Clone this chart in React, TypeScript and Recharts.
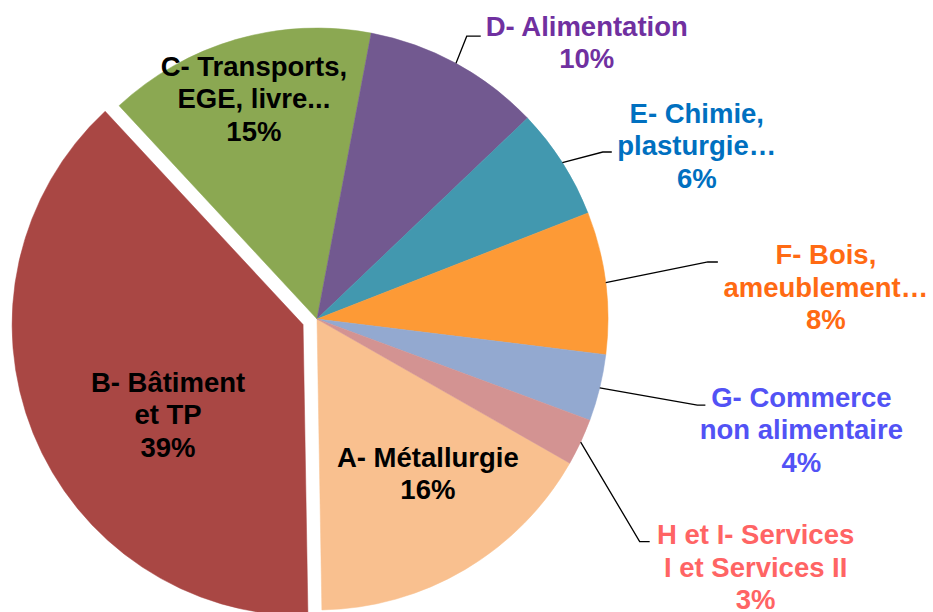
import { PieChart, Pie, Cell } from "recharts";

// secteurs, dans l'ordre du tracé (sens horaire)
const categories = ["A", "B", "C", "D", "E", "F", "G", "H"];
const shares = [16.5, 38.4, 14.9, 9.9, 6.2, 7.9, 3.7, 2.6];
const nameLines = [
  ["A- Métallurgie"],
  ["B- Bâtiment", "et TP"],
  ["C- Transports,", "EGE, livre..."],
  ["D- Alimentation"],
  ["E- Chimie,", "plasturgie…"],
  ["F- Bois,", "ameublement…"],
  ["G- Commerce", "non alimentaire"],
  ["H et I- Services", "I et Services II"],
];
const percentLabels = ["16%", "39%", "15%", "10%", "6%", "8%", "4%", "3%"];

const fills = ["#F9C08F", "#A94744", "#8BA852", "#725990", "#4298AF", "#FD9A36", "#93A9D0", "#D39392"];
const textColors = ["#000", "#000", "#000", "#7030A0", "#0070C0", "#FF6A13", "#5252F5", "#FF6464"];

// placement des étiquettes (angle horaire depuis midi, rayon)
type Layout =
  | { kind: "in"; deg: number; r: number }
  | { kind: "out"; deg: number; r: number; stub: number; dx: number; dy: number };
const layout: Layout[] = [
  { kind: "in", deg: 144.3, r: 190 },
  { kind: "in", deg: 236.2, r: 162.5 },
  { kind: "in", deg: 344, r: 229 },
  { kind: "out", deg: 27.9, r: 320, stub: 14, dx: 120, dy: -10 },
  { kind: "out", deg: 59.7, r: 331, stub: 9, dx: 94, dy: -39 },
  { kind: "out", deg: 81.7, r: 395, stub: 10, dx: 118, dy: -7 },
  { kind: "out", deg: 102.75, r: 390, stub: 8, dx: 104, dy: -8 },
  { kind: "out", deg: 124.6, r: 392, stub: 10, dx: 116, dy: -7 },
];

const EXPLODED = 1;
const CX = 317;
const CY = 319;
const R = 291;
const START = 119.7; // degrés, sens horaire depuis midi
const EXPLODE = 15;
const LH = 32.5;
const FONT = "'Liberation Sans', Arial, sans-serif";

const data = categories.map((c, i) => ({ name: c, value: shares[i] }));

const total = shares.reduce((a, b) => a + b, 0);
const before = shares.slice(0, EXPLODED).reduce((a, b) => a + b, 0);
const midB = ((START + (360 * (before + shares[EXPLODED] / 2)) / total) * Math.PI) / 180;
const offX = EXPLODE * Math.sin(midB);
const offY = -EXPLODE * Math.cos(midB);

const polar = (cx: number, cy: number, r: number, deg: number) => ({
  x: cx + r * Math.sin((deg * Math.PI) / 180),
  y: cy - r * Math.cos((deg * Math.PI) / 180),
});

function renderLabel(props: any, onlyIndex: number | null) {
  const { cx, cy, midAngle, outerRadius, index } = props;
  if (onlyIndex === null ? index === EXPLODED : index !== onlyIndex) return null;
  const lay = layout[index];
  const lines = [...nameLines[index], percentLabels[index]];
  const common = {
    fill: textColors[index],
    fontFamily: FONT,
    fontWeight: 700,
    fontSize: 27.5,
    textAnchor: "middle" as const,
    dominantBaseline: "central" as const,
  };
  if (lay.kind === "in") {
    const p = polar(cx, cy, lay.r, lay.deg);
    const y0 = p.y - ((lines.length - 1) / 2) * LH;
    return (
      <g key={`lbl-${index}`}>
        {lines.map((t, i) => (
          <text key={i} x={p.x} y={y0 + i * LH} {...common}>
            {t}
          </text>
        ))}
      </g>
    );
  }
  const rad = (-midAngle * Math.PI) / 180;
  const sx = cx + outerRadius * Math.cos(rad);
  const sy = cy + outerRadius * Math.sin(rad);
  const e = polar(cx, cy, lay.r, lay.deg);
  return (
    <g key={`lbl-${index}`}>
      <polyline
        points={`${sx},${sy} ${e.x},${e.y} ${e.x + lay.stub},${e.y}`}
        fill="none"
        stroke="#000"
        strokeWidth={1.3}
      />
      {lines.map((t, i) => (
        <text key={i} x={e.x + lay.dx} y={e.y + lay.dy + i * LH} {...common}>
          {t}
        </text>
      ))}
    </g>
  );
}

export default function App() {
  return (
    <div style={{ position: "absolute", left: 0, top: 0, width: 933, height: 612, background: "#fff" }}>
      <PieChart width={933} height={612} margin={{ top: 0, right: 0, bottom: 0, left: 0 }}>
        <Pie
          data={data}
          dataKey="value"
          cx={CX}
          cy={CY}
          outerRadius={R}
          startAngle={90 - START}
          endAngle={90 - START - 360}
          isAnimationActive={false}
          labelLine={false}
          label={(p: any) => renderLabel(p, null)}
        >
          {data.map((d, i) => (
            <Cell
              key={d.name}
              fill={i === EXPLODED ? "none" : fills[i]}
              stroke={i === EXPLODED ? "none" : fills[i]}
              strokeWidth={0.5}
            />
          ))}
        </Pie>
        <Pie
          data={data}
          dataKey="value"
          cx={CX + offX}
          cy={CY + offY}
          outerRadius={R}
          startAngle={90 - START}
          endAngle={90 - START - 360}
          isAnimationActive={false}
          labelLine={false}
          label={(p: any) => renderLabel(p, EXPLODED)}
        >
          {data.map((d, i) => (
            <Cell
              key={d.name}
              fill={i === EXPLODED ? fills[i] : "none"}
              stroke={i === EXPLODED ? fills[i] : "none"}
              strokeWidth={0.5}
            />
          ))}
        </Pie>
      </PieChart>
    </div>
  );
}
